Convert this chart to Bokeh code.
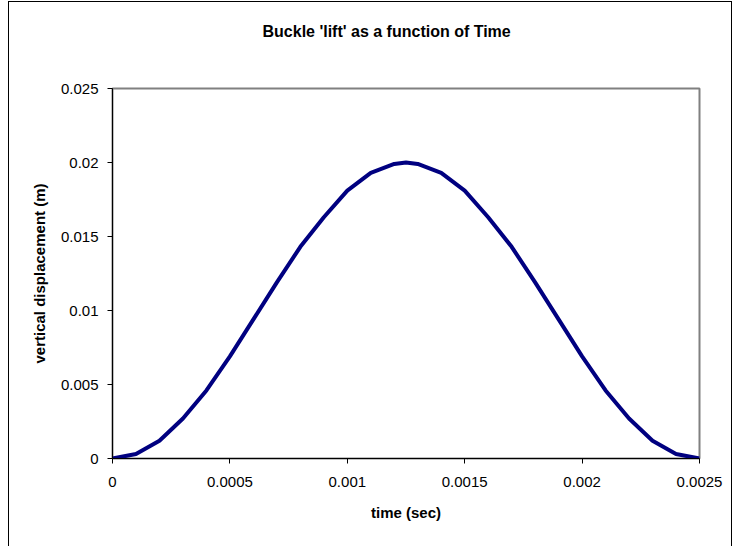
from bokeh.plotting import figure
from bokeh.models import Range1d, FixedTicker, Title
from bokeh.embed import file_html
from bokeh.resources import INLINE

# Data
time_s = [0.0, 0.0001, 0.0002, 0.0003, 0.0004, 0.0005, 0.0006, 0.0007, 0.0008,
          0.0009, 0.001, 0.0011, 0.0012, 0.00125, 0.0013, 0.0014, 0.0015, 0.0016,
          0.0017, 0.0018, 0.0019, 0.002, 0.0021, 0.0022, 0.0023, 0.0024, 0.0025]
lift_m = [0.0, 0.0003, 0.0012, 0.0027, 0.0046, 0.0069, 0.0094, 0.0119, 0.0143,
          0.0163, 0.0181, 0.0193, 0.0199, 0.0200, 0.0199, 0.0193, 0.0181, 0.0163,
          0.0143, 0.0119, 0.0094, 0.0069, 0.0046, 0.0027, 0.0012, 0.0003, 0.0]

x_ticks = [0.0, 0.0005, 0.001, 0.0015, 0.002, 0.0025]
x_tick_labels = ["0", "0.0005", "0.001", "0.0015", "0.002", "0.0025"]
y_ticks = [0.0, 0.005, 0.01, 0.015, 0.02, 0.025]
y_tick_labels = ["0", "0.005", "0.01", "0.015", "0.02", "0.025"]

title_text = "Buckle 'lift' as a function of Time"
x_label = "time (sec)"
y_label = "vertical displacement (m)"

FONT = "Liberation Sans"

p = figure(width=724, height=545, output_backend="svg", toolbar_location=None,
           x_range=Range1d(0, 0.0025), y_range=Range1d(0, 0.025),
           min_border_left=103, min_border_right=34, min_border_top=86,
           min_border_bottom=89)
p.margin = (1, 0, 0, 8)
p.styles = {"border-top": "1px solid black", "border-left": "1px solid black",
            "border-right": "1px solid black"}

p.line(time_s, lift_m, line_color="#000080", line_width=4)

p.xgrid.visible = False
p.ygrid.visible = False
p.outline_line_color = "#808080"
p.outline_line_width = 2

# blank spacer panel between the plot frame and the title
p.add_layout(Title(text=" ", standoff=30, text_font=FONT, text_font_size="16px",
                   text_font_style="bold"), "above")

p.title = Title(text=title_text, align="left", vertical_align="bottom",
                offset=150, standoff=0,
                text_font=FONT, text_font_size="16px", text_font_style="bold",
                text_color="black")

for ax in (p.xaxis[0], p.yaxis[0]):
    ax.axis_line_color = "black"
    ax.axis_line_width = 1
    ax.major_tick_line_color = "black"
    ax.major_tick_out = 5
    ax.major_tick_in = 0
    ax.minor_tick_line_color = None
    ax.major_label_text_font = FONT
    ax.major_label_text_font_size = "15px"
    ax.major_label_text_color = "black"
    ax.axis_label_text_font = FONT
    ax.axis_label_text_font_size = "15px"
    ax.axis_label_text_font_style = "bold"
    ax.axis_label_text_color = "black"

p.xaxis.ticker = FixedTicker(ticks=x_ticks)
p.xaxis.major_label_overrides = dict(zip(x_ticks, x_tick_labels))
p.yaxis.ticker = FixedTicker(ticks=y_ticks)
p.yaxis.major_label_overrides = dict(zip(y_ticks, y_tick_labels))
p.xaxis.axis_label = x_label
p.yaxis.axis_label = y_label
p.xaxis.major_label_standoff = 13
p.xaxis.axis_label_standoff = 14
p.yaxis.major_label_standoff = 9
p.yaxis.axis_label_standoff = 10

open("out.html", "w").write(file_html(p, INLINE))
